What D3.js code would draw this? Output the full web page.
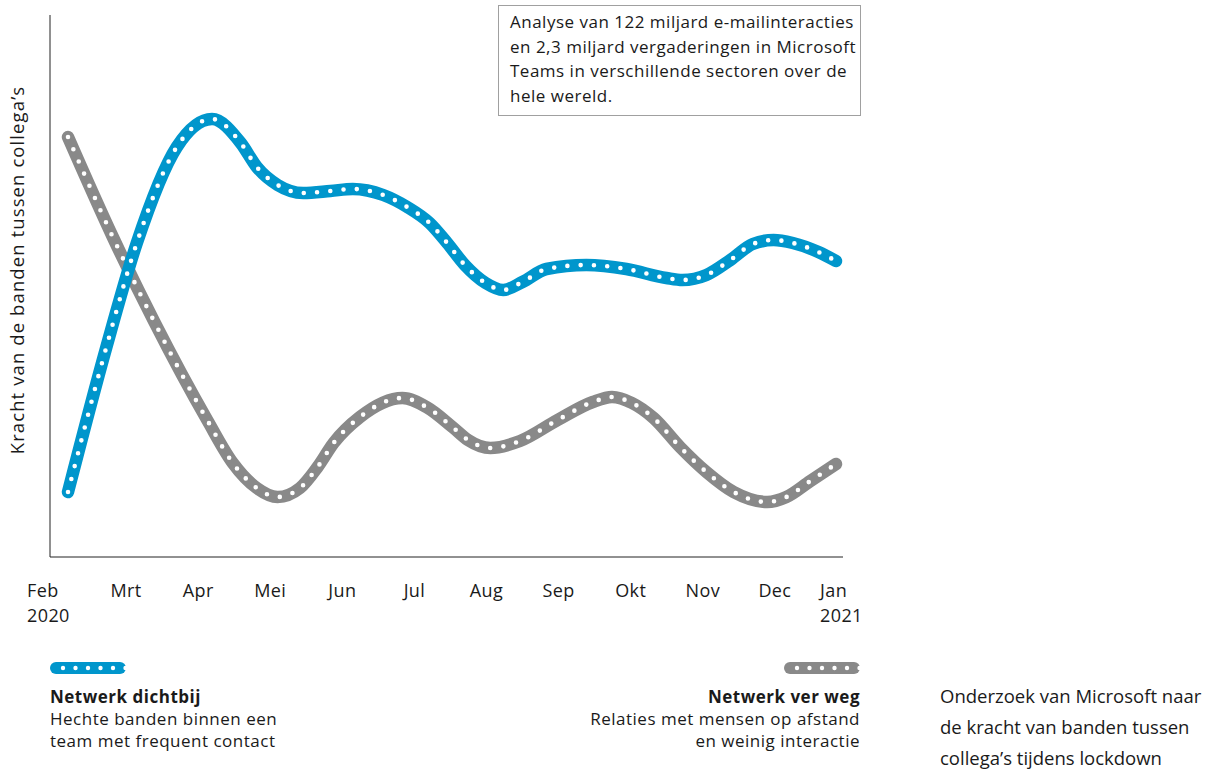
<!DOCTYPE html>
<html>
<head>
<meta charset="utf-8">
<script src="https://cdn.jsdelivr.net/npm/d3@7"></script>
<style>
  body { margin: 0; background: #fff; }
  text { font-family: "Open Sans", sans-serif; fill: #1a1a1a; }
</style>
</head>
<body>
<script>
const BLUE = "#0096cc"
const GREY = "#898989"

// months shown on the x axis
const months = ["Feb", "Mrt", "Apr", "Mei", "Jun", "Jul", "Aug", "Sep", "Okt", "Nov", "Dec", "Jan"]
const years = ["2020", "2021"]

// week number since start of Feb 2020 and strength of ties
const nearWeeks = [0, 2.4, 4.3, 6.8, 9.0, 10.8, 11.8, 13.1, 14.7, 16.4, 17.8, 19.7, 21.2, 22.6, 23.7, 24.8, 26.1, 27.2, 28.4, 29.9, 32.4, 34.9, 37.4, 38.4, 39.9, 41.4, 42.8, 44.1, 45.3, 46.9, 48]
const nearValues = [6.5, 21.0, 31.4, 41.0, 43.8, 41.4, 39.0, 37.2, 36.4, 36.6, 36.8, 36.2, 35.0, 33.4, 31.4, 29.2, 27.4, 26.7, 27.5, 28.8, 29.2, 28.8, 27.9, 27.7, 28.2, 29.7, 31.3, 31.7, 31.4, 30.5, 29.6]

const farWeeks = [0, 2.8, 5.4, 8.7, 10.3, 11.8, 13.1, 14.5, 15.6, 16.6, 18.25, 20.9, 22.4, 24.1, 25.0, 26.4, 28.25, 30.6, 32.8, 34.0, 35.25, 36.6, 38.25, 39.9, 41.6, 43.7, 44.9, 46.4, 48]
const farValues = [42.0, 32.0, 23.5, 13.7, 9.4, 6.9, 6.0, 6.9, 9.0, 11.4, 14.0, 15.9, 15.0, 12.9, 11.7, 10.9, 11.6, 13.7, 15.5, 16.0, 15.4, 13.9, 11.0, 8.5, 6.5, 5.5, 6.0, 7.6, 9.3]

let width = 1230, height = 771;
let svg = d3.select("body").append("svg").attr("width", width).attr("height", height);

let x = d3.scaleLinear().domain([0, 48]).range([68, 836]);
let y = d3.scaleLinear().domain([0, 54]).range([557, 17]);
let xLabel = d3.scalePoint().domain(months).range([52, 845]);

// axes lines, no ticks
svg.append("g").attr("transform", "translate(50,0)")
    .call(d3.axisLeft(y).tickValues([]).tickSizeOuter(0))
    .select(".domain").attr("d", "M0,15V557").attr("stroke", "#222");
svg.append("g").attr("transform", "translate(0,557)")
    .call(d3.axisBottom(xLabel).tickValues([]).tickSizeOuter(0))
    .select(".domain").attr("d", "M50,0H843").attr("stroke", "#222");

// month labels
let isEnd = (i) => i == 0 || i == months.length - 1;
svg.append("g").selectAll("text").data(months).join("text")
    .attr("y", 597).attr("font-size", "18px").attr("letter-spacing", "0.4px")
    .attr("x", (d, i) => isEnd(i) ? xLabel(d) - 25 : xLabel(d) + 2)
    .attr("text-anchor", (d, i) => isEnd(i) ? "start" : "middle")
    .text(d => d);
svg.append("text").attr("x", xLabel("Feb") - 25).attr("y", 622).attr("font-size", "18px")
    .attr("letter-spacing", "0.4px").text(years[0]);
svg.append("text").attr("x", xLabel("Jan") - 25).attr("y", 622).attr("font-size", "18px")
    .attr("letter-spacing", "0.4px").text(years[1]);

// y label
svg.append("text")
    .attr("transform", "translate(24,270) rotate(-90)")
    .attr("text-anchor", "middle").attr("font-size", "18.5px").attr("letter-spacing", "1.1px")
    .text("Kracht van de banden tussen collega’s");

let line = d3.line().x(d => x(d[0])).y(d => y(d[1])).curve(d3.curveMonotoneX);

function beadLine(weeks, values, color) {
    let pts = weeks.map((w, i) => [w, values[i]]);
    svg.append("path").attr("d", line(pts)).attr("fill", "none")
        .attr("stroke", color).attr("stroke-width", 12.5).attr("stroke-linecap", "round");
    svg.append("path").attr("d", line(pts)).attr("fill", "none")
        .attr("stroke", "#fff").attr("stroke-width", 4.6).attr("stroke-linecap", "round")
        .attr("stroke-dasharray", "0 13.3");
}
beadLine(farWeeks, farValues, GREY);
beadLine(nearWeeks, nearValues, BLUE);

// note box
svg.append("rect").attr("x", 498.5).attr("y", 5.5).attr("width", 362).attr("height", 110)
    .attr("fill", "#fff").attr("stroke", "#a0a0a0");
const note = ["Analyse van 122 miljard e-mailinteracties", "en 2,3 miljard vergaderingen in Microsoft", "Teams in verschillende sectoren over de", "hele wereld."]
svg.append("g").selectAll("text").data(note).join("text")
    .attr("x", 510).attr("y", (d, i) => 28 + i * 24.5).attr("font-size", "17px")
    .attr("letter-spacing", "0.5px").text(d => d);

// legend
function pill(x0, color) {
    let g = svg.append("g");
    g.append("line").attr("x1", x0 + 6).attr("x2", x0 + 70).attr("y1", 668).attr("y2", 668)
        .attr("stroke", color).attr("stroke-width", 12).attr("stroke-linecap", "round");
    g.selectAll("circle").data(d3.range(6)).join("circle")
        .attr("cx", i => x0 + 13 + i * 12.5).attr("cy", 668).attr("r", 2.2).attr("fill", "#fff");
}
pill(50, BLUE);
pill(784, GREY);

const leftLegend = ["Netwerk dichtbij", "Hechte banden binnen een", "team met frequent contact"]
const rightLegend = ["Netwerk ver weg", "Relaties met mensen op afstand", "en weinig interactie"]
svg.append("g").selectAll("text").data(leftLegend).join("text")
    .attr("x", 50).attr("y", (d, i) => 703 + i * 22).attr("font-size", "17px").attr("letter-spacing", "0.5px")
    .attr("font-weight", (d, i) => i == 0 ? "bold" : "normal").text(d => d);
svg.append("g").selectAll("text").data(rightLegend).join("text")
    .attr("x", 860).attr("y", (d, i) => 703 + i * 22).attr("font-size", "17px").attr("letter-spacing", "0.5px")
    .attr("text-anchor", "end")
    .attr("font-weight", (d, i) => i == 0 ? "bold" : "normal").text(d => d);

const caption = ["Onderzoek van Microsoft naar", "de kracht van banden tussen", "collega’s tijdens lockdown"]
svg.append("g").selectAll("text").data(caption).join("text")
    .attr("x", 940).attr("y", (d, i) => 703 + i * 31).attr("font-size", "18.5px").text(d => d);
</script>
</body>
</html>
